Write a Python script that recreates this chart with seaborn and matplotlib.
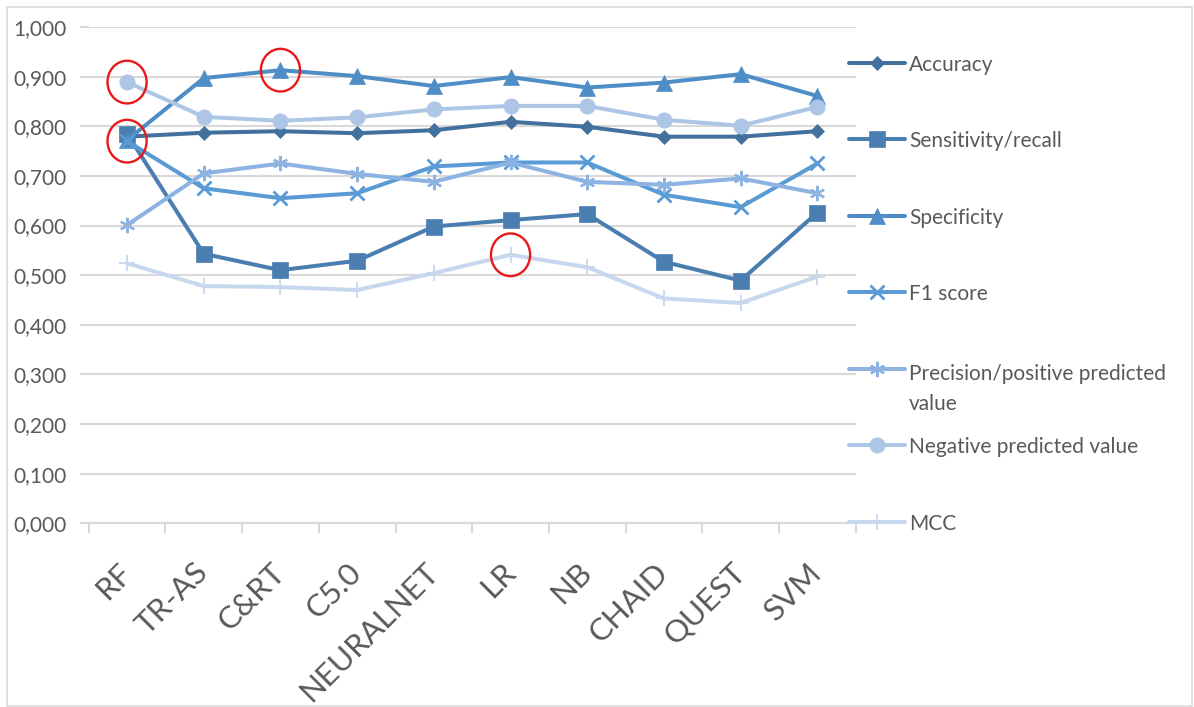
import numpy as np
import pandas as pd
import matplotlib
matplotlib.use("Agg")
import matplotlib.pyplot as plt
import seaborn as sns
from matplotlib.lines import Line2D
from matplotlib.patches import Ellipse, Rectangle
from matplotlib.ticker import FuncFormatter, MultipleLocator

# ---- data -------------------------------------------------------------
models = ["RF", "TR-AS", "C&RT", "C5.0", "NEURALNET", "LR", "NB", "CHAID", "QUEST", "SVM"]

accuracy    = [0.779, 0.787, 0.790, 0.786, 0.792, 0.809, 0.799, 0.779, 0.779, 0.790]
sensitivity = [0.785, 0.543, 0.510, 0.529, 0.598, 0.611, 0.623, 0.527, 0.489, 0.626]
specificity = [0.772, 0.897, 0.913, 0.901, 0.881, 0.899, 0.878, 0.888, 0.905, 0.861]
f1_score    = [0.770, 0.675, 0.655, 0.665, 0.719, 0.727, 0.727, 0.662, 0.637, 0.725]
precision   = [0.601, 0.705, 0.725, 0.704, 0.688, 0.727, 0.688, 0.682, 0.695, 0.665]
npv         = [0.889, 0.819, 0.811, 0.818, 0.834, 0.841, 0.841, 0.813, 0.801, 0.839]
mcc         = [0.524, 0.478, 0.476, 0.470, 0.504, 0.541, 0.516, 0.453, 0.444, 0.497]

series_names = ["Accuracy", "Sensitivity/recall", "Specificity", "F1 score",
                "Precision/positive predicted\nvalue", "Negative predicted value", "MCC"]
series_values = [accuracy, sensitivity, specificity, f1_score, precision, npv, mcc]

# ---- styles -----------------------------------------------------------
styles = [
    dict(color="#41719C", marker="D", markersize=7.5, markeredgewidth=0.5),
    dict(color="#4A7DB0", marker="s", markersize=11.5, markeredgewidth=0.5),
    dict(color="#4F8DC6", marker="^", markersize=12, markeredgewidth=0.5),
    dict(color="#5B9BD5", marker="x", markersize=10, markeredgewidth=2.0),
    dict(color="#8DB3E2", marker=(6, 2, 0), markersize=11, markeredgewidth=1.6),
    dict(color="#ADC6E6", marker="o", markersize=11, markeredgewidth=0.5),
    dict(color="#C7D8EE", marker="+", markersize=11, markeredgewidth=1.3),
]
LINE_W = 2.9
GRID = "#D9D9D9"
TEXT = "#595959"

sns.set_theme(style="white")
plt.rcParams["font.family"] = ["Lato", "DejaVu Sans"]

W, H = 1194, 707
fig = plt.figure(figsize=(W / 100, H / 100), dpi=100)
ax = fig.add_axes([88.7 / W, 1 - 523.3 / H, (855.7 - 88.7) / W, (523.3 - 27) / H])

positions = np.arange(len(models))
for k, (name, vals, st) in enumerate(zip(series_names, series_values, styles)):
    df = pd.DataFrame({"model": positions, "value": vals})
    sns.lineplot(data=df, x="model", y="value", ax=ax, sort=False, legend=False,
                 color=st["color"], marker=st["marker"], markersize=st["markersize"],
                 markeredgewidth=st["markeredgewidth"], markeredgecolor=st["color"],
                 markerfacecolor=st["color"], linewidth=LINE_W, zorder=3 + k,
                 solid_capstyle="round", solid_joinstyle="round")

# ---- axes -------------------------------------------------------------
ax.set_xlim(-0.5, len(models) - 0.5)
ax.set_ylim(0, 1.0)
ax.yaxis.set_major_locator(MultipleLocator(0.1))
ax.yaxis.set_major_formatter(FuncFormatter(lambda v, _: f"{v:.3f}".replace(".", ",")))
ax.grid(axis="y", color=GRID, linewidth=1.5, zorder=0)
ax.grid(axis="x", visible=False)
for side in ["left", "right", "top"]:
    ax.spines[side].set_visible(False)
ax.spines["bottom"].set_color(GRID)
ax.spines["bottom"].set_linewidth(1.5)
ax.set_xlabel("")
ax.set_ylabel("")

ax.tick_params(axis="y", length=6.2, width=1.5, color=GRID, labelcolor=TEXT,
               labelsize=15, pad=10, left=True)
ax.set_xticks(positions)
ax.set_xticks(np.arange(-0.5, len(models), 1.0), minor=True)
ax.tick_params(axis="x", which="major", length=0, pad=32, labelsize=22.5, labelcolor=TEXT)
ax.tick_params(axis="x", which="minor", length=7.2, width=1.5, color=GRID, bottom=True)
ax.set_xticklabels(models, rotation=45, ha="right", va="center", rotation_mode="anchor")

# ---- highlight rings on the best scores --------------------------------
ring_w, ring_h = 0.51, 0.086
highlights = [(0, npv[0]), (0, f1_score[0]), (2, specificity[2]), (5, mcc[5])]
for xi, yv in highlights:
    ax.add_patch(Ellipse((xi, yv), ring_w, ring_h, fill=False, edgecolor="#E8191A",
                         linewidth=1.7, zorder=20))

# ---- legend -----------------------------------------------------------
leg_x0, leg_x1, text_x = 849, 905, 909
row0, row_step, line_step = 62.7, 76.5, 30
for k, (name, st) in enumerate(zip(series_names, styles)):
    y_px = row0 + k * row_step
    y = 1 - y_px / H
    xs = np.array([leg_x0, (leg_x0 + leg_x1) / 2, leg_x1]) / W
    fig.add_artist(Line2D(xs, [y] * 3, transform=fig.transFigure, color=st["color"],
                          linewidth=LINE_W, marker=st["marker"], markevery=[1],
                          markersize=st["markersize"], markeredgewidth=st["markeredgewidth"],
                          markeredgecolor=st["color"], markerfacecolor=st["color"]))
    lines = name.split("\n")
    first_offset = 3 if len(lines) > 1 else 0
    for j, line in enumerate(lines):
        fig.text(text_x / W, 1 - (y_px + first_offset + j * line_step) / H, line, ha="left",
                 va="center_baseline", fontsize=15, color=TEXT)

# chart frame
fig.add_artist(Rectangle((7 / W, 1 - 706 / H), (1192 - 7) / W, (706 - 7) / H,
                         transform=fig.transFigure, fill=False, edgecolor=GRID, linewidth=1.2))

fig.savefig("out.png", dpi=100)
